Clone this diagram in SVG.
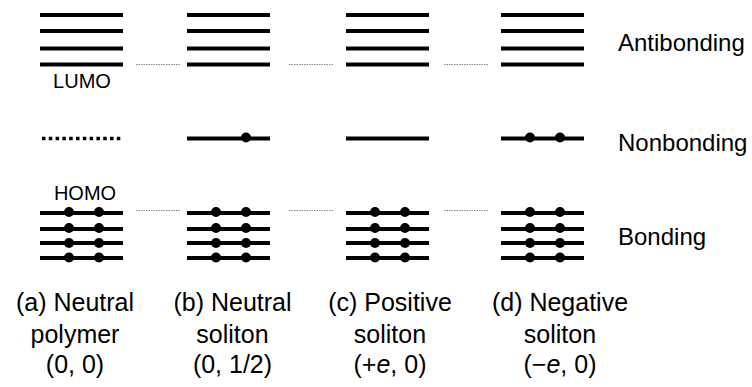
<svg xmlns="http://www.w3.org/2000/svg" width="752" height="387" viewBox="0 0 752 387">
<style>
.lv{stroke:#000;stroke-width:4;fill:none}
.nb{stroke:#000;stroke-width:3.5;stroke-dasharray:3.5 3.3;fill:none}
.lk{stroke:#888;stroke-width:1.2;stroke-dasharray:1.5 1;fill:none}
.e{fill:#000}
.t{font-family:"Liberation Sans",Arial,sans-serif;fill:#000}
.lab{font-size:25px}
.side{font-size:24px}
.hl{font-size:20px}
</style>
<defs>
<g id="ab"><line class="lv" x1="0" y1="15" x2="83" y2="15"/><line class="lv" x1="0" y1="31" x2="83" y2="31"/><line class="lv" x1="0" y1="48.5" x2="83" y2="48.5"/><line class="lv" x1="0" y1="64.5" x2="83" y2="64.5"/></g>
<g id="bd">
<line class="lv" x1="0" y1="213" x2="83" y2="213"/><line class="lv" x1="0" y1="229" x2="83" y2="229"/><line class="lv" x1="0" y1="243" x2="83" y2="243"/><line class="lv" x1="0" y1="258" x2="83" y2="258"/>
<circle class="e" cx="29" cy="212" r="5"/><circle class="e" cx="59" cy="212" r="5"/>
<circle class="e" cx="29" cy="228" r="5"/><circle class="e" cx="59" cy="228" r="5"/>
<circle class="e" cx="29" cy="243" r="5"/><circle class="e" cx="59" cy="243" r="5"/>
<circle class="e" cx="29" cy="257.5" r="5"/><circle class="e" cx="59" cy="257.5" r="5"/>
</g>
</defs>
<g id="connectors">
<line class="lk" x1="136" y1="64.5" x2="181" y2="64.5"/>
<line class="lk" x1="289" y1="64.5" x2="334" y2="64.5"/>
<line class="lk" x1="444" y1="64.5" x2="489" y2="64.5"/>
<line class="lk" x1="136" y1="210.5" x2="181" y2="210.5"/>
<line class="lk" x1="289" y1="210.5" x2="334" y2="210.5"/>
<line class="lk" x1="444" y1="210.5" x2="489" y2="210.5"/>
</g>
<g id="panel-a" transform="translate(40,0)">
<use href="#ab"/>
<text class="t hl" x="42" y="88" text-anchor="middle">LUMO</text>
<line class="nb" x1="2" y1="138.5" x2="83" y2="138.5"/>
<text class="t hl" x="45" y="200" text-anchor="middle">HOMO</text>
<use href="#bd"/>
</g>
<g id="panel-b" transform="translate(187,0)">
<use href="#ab"/>
<line class="lv" x1="0" y1="138.5" x2="83" y2="138.5"/>
<circle class="e" cx="59" cy="137.5" r="5"/>
<use href="#bd"/>
</g>
<g id="panel-c" transform="translate(346,0)">
<use href="#ab"/>
<line class="lv" x1="0" y1="138.5" x2="83" y2="138.5"/>
<use href="#bd"/>
</g>
<g id="panel-d" transform="translate(501,0)">
<use href="#ab"/>
<line class="lv" x1="0" y1="138.5" x2="83" y2="138.5"/>
<circle class="e" cx="29" cy="137.5" r="5"/><circle class="e" cx="59" cy="137.5" r="5"/>
<use href="#bd"/>
</g>
<g id="side-labels">
<text class="t side" x="618" y="51">Antibonding</text>
<text class="t side" x="618" y="151">Nonbonding</text>
<text class="t side" x="618" y="244.5">Bonding</text>
</g>
<g id="captions" class="t lab" text-anchor="middle">
<text x="75" y="311">(a) Neutral</text><text x="75" y="342.5">polymer</text><text x="75" y="373">(0, 0)</text>
<text x="232.5" y="311">(b) Neutral</text><text x="232.5" y="342.5">soliton</text><text x="232.5" y="373">(0, 1/2)</text>
<text x="390" y="311">(c) Positive</text><text x="390" y="342.5">soliton</text><text x="390" y="373">(+<tspan font-style="italic">e</tspan>, 0)</text>
<text x="560" y="311">(d) Negative</text><text x="560" y="342.5">soliton</text><text x="560" y="373">(−<tspan font-style="italic">e</tspan>, 0)</text>
</g>
</svg>
